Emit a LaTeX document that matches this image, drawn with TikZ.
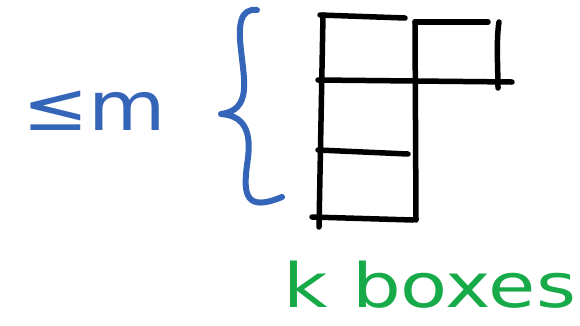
\documentclass[tikz,border=0pt]{standalone}
\usepackage{fontspec}
\newfontfamily\handfont{DejaVu Sans}
\definecolor{penblue}{RGB}{52,101,185}
\definecolor{pengreen}{RGB}{22,170,72}
\tikzset{
  pen/.style={line width=5.5pt, line cap=round, line join=round},
  ink/.style={pen, black},
  bluepen/.style={pen, penblue},
  label/.style={inner sep=0pt, font=\handfont\fontsize{68}{72}\selectfont}
}
\begin{document}
\begin{tikzpicture}[x=1pt,y=-1pt]
\useasboundingbox (0,0) rectangle (580,325);
% grid of boxes
\coordinate (l1) at (323,15);  \coordinate (l2) at (319,227);
\coordinate (t1a) at (320,15); \coordinate (t1b) at (405,18);
\coordinate (t2a) at (415,22); \coordinate (t2b) at (488,22);
\coordinate (m1) at (415,22);  \coordinate (m2) at (416,220);
\coordinate (r1) at (499,22);  \coordinate (r2) at (498,88);
\coordinate (h1a) at (318,80); \coordinate (h1b) at (512,82);
\coordinate (h2a) at (318,150);\coordinate (h2b) at (408,154);
\coordinate (ba) at (312,217); \coordinate (bb) at (413,220);
\draw[ink] (l1) -- (l2);
\draw[ink] (t1a) -- (t1b);
\draw[ink] (t2a) -- (t2b);
\draw[ink] (m1) -- (m2);
\draw[ink] (r1) .. controls (496,40) and (498,70) .. (r2);
\draw[ink] (h1a) -- (h1b);
\draw[ink] (h2a) -- (h2b);
\draw[ink] (ba) -- (bb);
% brace
\coordinate (bt) at (257,10);
\coordinate (tip) at (221,114);
\coordinate (bend) at (282,197);
\draw[bluepen, line width=6pt] (bt) .. controls (240,8) and (238,25) .. (241,50)
  .. controls (244,80) and (252,110) .. (tip)
  .. controls (250,116) and (251,140) .. (247,165)
  .. controls (243,195) and (246,212) .. (bend);
% labels
\node[label, text=penblue, anchor=base west] (lem) at (22,130) {\scalebox{1.17}[1]{≤m}};
\node[label, text=pengreen, anchor=base west] (kb) at (283,307) {\scalebox{1.13}[0.9]{k boxes}};
\end{tikzpicture}
\end{document}
